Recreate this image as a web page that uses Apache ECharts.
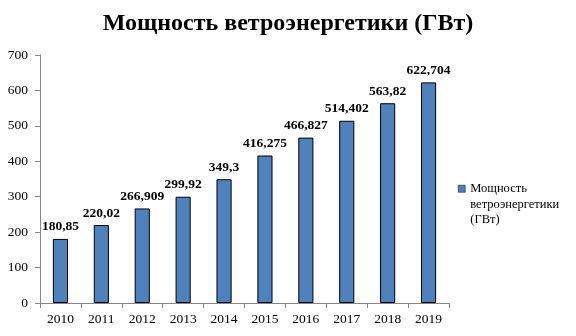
<!DOCTYPE html>
<html><head><meta charset="utf-8">
<script src="https://cdn.jsdelivr.net/npm/echarts@6/dist/echarts.min.js"></script>
<style>html,body{margin:0;padding:0;background:#fff}#c{width:576px;height:336px}</style>
</head><body><div id="c"></div>
<script>
const titleText = 'Мощность ветроэнергетики (ГВт)';
const seriesName = 'Мощность ветроэнергетики (ГВт)';
const legendLines = ['Мощность','ветроэнергетики','(ГВт)'];
const years = ['2010','2011','2012','2013','2014','2015','2016','2017','2018','2019'];
const values = [180.85, 220.02, 266.909, 299.92, 349.3, 416.275, 466.827, 514.402, 563.82, 622.704];
const valueLabels = ['180,85','220,02','266,909','299,92','349,3','416,275','466,827','514,402','563,82','622,704'];
const yTicks = [0,100,200,300,400,500,600,700];

const font = 'Liberation Serif, Times New Roman, serif';
const chart = echarts.init(document.getElementById('c'), null, {renderer:'canvas'});
chart.setOption({
  animation:false,
  backgroundColor:'#fff',
  title:{text:titleText,left:'center',top:7,textStyle:{fontFamily:font,fontWeight:'bold',fontSize:24,color:'#000'}},
  legend:{
    left:453, top:145, orient:'vertical', itemWidth:7, itemHeight:7, itemGap:0,
    icon:'rect',
    formatter:()=> ' \n \n' + legendLines.join('\n'),
    textStyle:{fontFamily:font,fontSize:12.5,color:'#000',lineHeight:15.5},
    itemStyle:{borderColor:'#000',borderWidth:0.5}
  },
  grid:{left:40,top:55,width:409,height:248,containLabel:false},
  xAxis:{type:'category',data:years,
    axisLine:{lineStyle:{color:'#868686'}},
    axisTick:{show:true,alignWithLabel:false,length:5,lineStyle:{color:'#868686'}},
    axisLabel:{fontFamily:font,fontSize:13.5,color:'#000',margin:9}
  },
  yAxis:{type:'value',min:yTicks[0],max:yTicks[yTicks.length-1],interval:100,
    axisLine:{show:true,lineStyle:{color:'#868686'}},
    axisTick:{show:true,length:5,lineStyle:{color:'#868686'}},
    splitLine:{show:false},
    axisLabel:{fontFamily:font,fontSize:13.5,color:'#000',margin:12}
  },
  series:[{name:seriesName,type:'bar',data:values,barWidth:'37%',
    itemStyle:{color:'#4F81BD',borderColor:'#000',borderWidth:1},
    label:{show:true,position:'top',distance:5,fontFamily:font,fontWeight:'bold',fontSize:13.5,color:'#000',
      formatter:p=>valueLabels[p.dataIndex]}
  }]
});
</script></body></html>
